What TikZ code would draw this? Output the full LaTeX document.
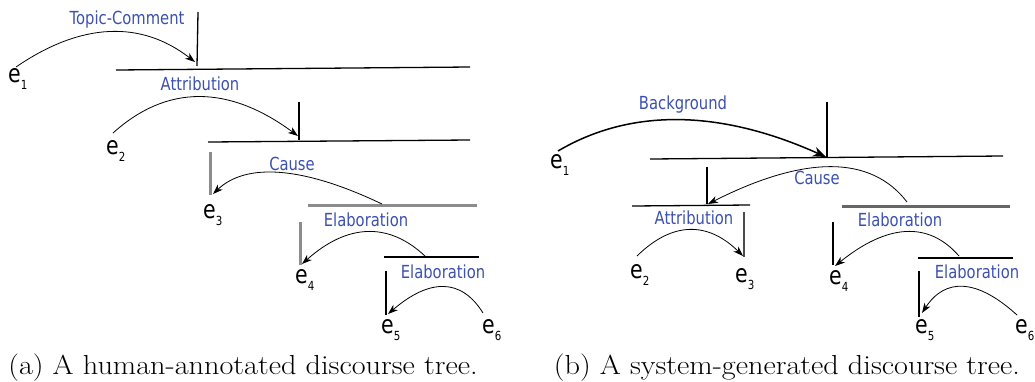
\documentclass[tikz,border=0pt]{standalone}
\usepackage{fontspec}
\usetikzlibrary{arrows.meta}
\newfontfamily\labfont[FakeStretch=0.82]{DejaVu Sans}
\newfontfamily\capfont[FakeStretch=1.1]{Latin Modern Roman}
\definecolor{relblue}{HTML}{3B50B0}
\newcommand{\eu}[1]{{\fontsize{25}{25}\selectfont e}\raisebox{-7pt}{\fontsize{12.5}{12.5}\selectfont #1}}
\tikzset{
  rel/.style={text=relblue, font=\labfont\fontsize{18}{20}\selectfont, inner sep=0pt},
  unit/.style={anchor=base west, inner sep=0pt, font=\labfont},
  span/.style={line width=1.3pt, line cap=butt},
  spanthick/.style={line width=1.9pt},
  spangray/.style={line width=3pt, draw=black!45},
  arc/.style={line width=0.8pt, -{Stealth[length=10pt,width=7pt,inset=3pt]}},
  bigarc/.style={line width=1.5pt, -{Stealth[length=13pt,width=10pt,inset=4pt]}},
  captext/.style={anchor=base, inner sep=0pt, font=\capfont\fontsize{27.5}{30}\selectfont}
}
\begin{document}
\begin{tikzpicture}[x=1pt,y=-1pt]
\useasboundingbox (0,0) rectangle (1035,381);

% ---------- (a) human-annotated ----------
\node[unit] (ae1) at (8,82) {\eu{1}};
\node[unit] (ae2) at (106,154) {\eu{2}};
\node[unit] (ae3) at (203,218) {\eu{3}};
\node[unit] (ae4) at (295,283) {\eu{4}};
\node[unit] (ae5) at (381,333) {\eu{5}};
\node[unit] (ae6) at (482,333) {\eu{6}};

\node[rel] (atc) at (127,19.5) {Topic-Comment};
\node[rel] (aat) at (200,84) {Attribution};
\node[rel] (aca) at (292,164) {Cause};
\node[rel] (ael1) at (366,220) {Elaboration};
\node[rel] (ael2) at (443,272) {Elaboration};

% spans
\coordinate (aV1t) at (198,12);  \coordinate (aV1b) at (197,66);
\coordinate (aH1l) at (116,70);  \coordinate (aH1r) at (470,67);
\coordinate (aV2t) at (299,102); \coordinate (aV2b) at (299,140);
\coordinate (aH2l) at (208,142); \coordinate (aH2r) at (470,140);
\coordinate (aV3t) at (210,152); \coordinate (aV3b) at (210,195);
\coordinate (aH3l) at (308,205); \coordinate (aH3r) at (477,205);
\coordinate (aV4t) at (300,222); \coordinate (aV4b) at (300,265);
\coordinate (aH4l) at (384,257); \coordinate (aH4r) at (479,257);
\coordinate (aV5t) at (386,271); \coordinate (aV5b) at (386,315);
\draw[span] (aV1t) -- (aV1b);
\draw[span] (aH1l) -- (aH1r);
\draw[spanthick] (aV2t) -- (aV2b);
\draw[span] (aH2l) -- (aH2r);
\draw[spangray] (aV3t) -- (aV3b);
\draw[spangray] (aH3l) -- (aH3r);
\draw[spangray] (aV4t) -- (aV4b);
\draw[spanthick] (aH4l) -- (aH4r);
\draw[spanthick] (aV5t) -- (aV5b);

% relation arcs
\coordinate (aA1s) at (16,67);   \coordinate (aA1e) at (195,62);
\coordinate (aA2s) at (113,133); \coordinate (aA2e) at (298,136);
\coordinate (aA3s) at (382,204); \coordinate (aA3e) at (213,194);
\coordinate (aA4s) at (426,257); \coordinate (aA4e) at (302,264);
\coordinate (aA5s) at (483,313); \coordinate (aA5e) at (388,314);
\draw[arc] (aA1s) .. controls (81.7,22) and (141.3,20.3) .. (aA1e);
\draw[arc] (aA2s) .. controls (167.3,84) and (229,85) .. (aA2e);
\draw[arc] (aA3s) .. controls (302.3,166) and (246,162.7) .. (aA3e);
\draw[arc] (aA4s) .. controls (388.7,221.3) and (347.3,223.7) .. (aA4e);
\draw[arc] (aA5s) .. controls (461.3,278) and (429.7,278.3) .. (aA5e);

\node[captext] (capa) at (243,374) {(a) A human-annotated discourse tree.};

% ---------- (b) system-generated ----------
\node[unit] (be1) at (550,168) {\eu{1}};
\node[unit] (be2) at (630,278) {\eu{2}};
\node[unit] (be3) at (735,282) {\eu{3}};
\node[unit] (be4) at (829,284) {\eu{4}};
\node[unit] (be5) at (915,333) {\eu{5}};
\node[unit] (be6) at (1015,333) {\eu{6}};

\node[rel] (bbg) at (683,105) {Background};
\node[rel] (bca) at (817,178) {Cause};
\node[rel] (bat) at (694,218) {Attribution};
\node[rel] (bel1) at (900,220) {Elaboration};
\node[rel] (bel2) at (977,272) {Elaboration};

\coordinate (bV1t) at (827,102); \coordinate (bV1b) at (827,157);
\coordinate (bH1l) at (650,159); \coordinate (bH1r) at (1003,156);
\coordinate (bV2t) at (707,167); \coordinate (bV2b) at (707,204);
\coordinate (bH2l) at (632,206); \coordinate (bH2r) at (750,205);
\coordinate (bH3l) at (842,206); \coordinate (bH3r) at (1010,206);
\coordinate (bV3t) at (744,212); \coordinate (bV3b) at (744,257);
\coordinate (bV4t) at (833,222); \coordinate (bV4b) at (833,265);
\coordinate (bH4l) at (918,258); \coordinate (bH4r) at (1013,258);
\coordinate (bV5t) at (919,271); \coordinate (bV5b) at (919,317);
\draw[span] (bV1t) -- (bV1b);
\draw[span] (bH1l) -- (bH1r);
\draw[spanthick] (bV2t) -- (bV2b);
\draw[span] (bH2l) -- (bH2r);
\draw[line width=3pt, draw=black!60] (bH3l) -- (bH3r);
\draw[line width=2.5pt, draw=black!70] (bV3t) -- (bV3b);
\draw[spanthick] (bV4t) -- (bV4b);
\draw[spanthick] (bH4l) -- (bH4r);
\draw[spanthick] (bV5t) -- (bV5b);

\coordinate (bA1s) at (558,151); \coordinate (bA1e) at (826,157);
\coordinate (bA2s) at (907,202); \coordinate (bA2e) at (708,204);
\coordinate (bA3s) at (637,256); \coordinate (bA3e) at (743,256);
\coordinate (bA4s) at (959,256); \coordinate (bA4e) at (835,266);
\coordinate (bA5s) at (1017,315);\coordinate (bA5e) at (922,313);
\draw[bigarc] (bA1s) .. controls (631.3,107.7) and (720.7,109.7) .. (bA1e);
\draw[arc] (bA2s) .. controls (870.7,154.7) and (804.3,155.3) .. (bA2e);
\draw[arc] (bA3s) .. controls (672.3,221.3) and (707.7,221.3) .. (bA3e);
\draw[arc] (bA4s) .. controls (928.3,220.7) and (887,224) .. (bA4e);
\draw[arc] (bA5s) .. controls (976.7,278.3) and (945,277.7) .. (bA5e);

\node[captext] (capb) at (787,374) {(b) A system-generated discourse tree.};
\end{tikzpicture}
\end{document}
